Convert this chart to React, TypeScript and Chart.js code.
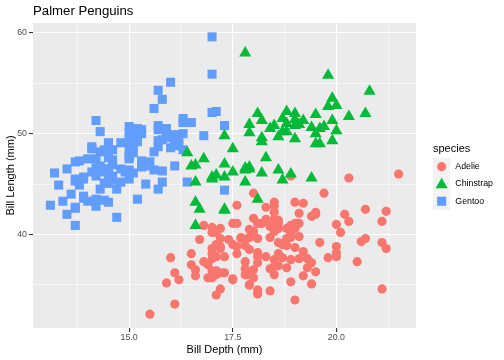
import { useEffect, useRef } from 'react';
import { Chart, registerables } from 'chart.js';

Chart.register(...registerables);

const FONT = "'Liberation Sans', Arial, Helvetica, sans-serif";

const speciesNames = ['Adelie', 'Chinstrap', 'Gentoo'];
const speciesColors = ['#F8766D', '#00BA38', '#619CFF'];
const speciesShapes = ['circle', 'triangle', 'rect'];
const speciesRadius = [4.6, 7, 6.4];
const drawOrder = [3, 1, 2];

const adelieDepth = [18.7, 17.4, 18.0, 19.3, 20.6, 17.8, 19.6, 18.1, 20.2, 17.1, 17.3, 17.6, 21.2, 21.1, 17.8, 19.0, 20.7, 18.4, 21.5, 18.3, 18.7, 19.2, 18.1, 17.2, 18.9, 18.6, 17.9, 18.6, 18.9, 16.7, 18.1, 17.8, 18.9, 17.0, 21.1, 20.0, 18.5, 19.3, 19.1, 18.0, 18.4, 18.5, 19.7, 16.9, 18.8, 19.0, 18.9, 17.9, 21.2, 17.7, 18.9, 17.9, 19.5, 18.1, 18.6, 17.5, 18.8, 16.6, 19.1, 16.9, 21.1, 17.0, 18.2, 17.1, 18.0, 16.2, 19.1, 16.6, 19.4, 19.0, 18.4, 17.2, 18.9, 17.5, 18.5, 16.8, 19.4, 16.1, 19.1, 17.2, 17.6, 18.8, 19.4, 17.8, 20.3, 19.5, 18.6, 19.2, 18.8, 18.0, 18.1, 17.1, 18.1, 17.3, 18.9, 18.6, 18.5, 16.1, 18.5, 17.9, 20.0, 16.0, 20.0, 18.6, 18.9, 17.2, 20.0, 17.0, 19.0, 16.5, 20.3, 17.7, 19.5, 20.7, 18.3, 17.0, 20.5, 17.0, 18.6, 17.2, 19.8, 17.0, 18.5, 15.9, 19.0, 17.6, 18.3, 17.1, 18.0, 17.9, 19.2, 18.5, 18.5, 17.6, 17.5, 17.5, 20.1, 16.5, 17.9, 17.1, 17.2, 15.5, 17.0, 16.8, 18.7, 18.6, 18.4, 17.8, 18.1, 17.1, 18.5];
const adelieLength = [39.1, 39.5, 40.3, 36.7, 39.3, 38.9, 39.2, 34.1, 42.0, 37.8, 37.8, 41.1, 38.6, 34.6, 36.6, 38.7, 42.5, 34.4, 46.0, 37.8, 37.7, 35.9, 38.2, 38.8, 35.3, 40.6, 40.5, 37.9, 40.5, 39.5, 37.2, 39.5, 40.9, 36.4, 39.2, 38.8, 42.2, 37.6, 39.8, 36.5, 40.8, 36.0, 44.1, 37.0, 39.6, 41.1, 37.5, 36.0, 42.3, 39.6, 40.1, 35.0, 42.0, 34.5, 41.4, 39.0, 40.6, 36.5, 37.6, 35.7, 41.3, 37.6, 41.1, 36.4, 41.6, 35.5, 41.1, 35.9, 41.8, 33.5, 39.7, 39.6, 45.8, 35.5, 42.8, 40.9, 37.2, 36.2, 42.1, 34.6, 42.9, 36.7, 35.1, 37.3, 41.3, 36.3, 36.9, 38.3, 38.9, 35.7, 41.1, 34.0, 39.6, 36.2, 40.8, 38.1, 40.3, 33.1, 43.2, 35.0, 41.0, 37.7, 37.8, 37.9, 39.7, 38.6, 38.2, 38.1, 43.2, 38.1, 45.6, 39.7, 42.2, 39.6, 42.7, 38.6, 37.3, 35.7, 41.1, 36.2, 37.7, 40.2, 41.4, 35.2, 40.6, 38.8, 41.5, 39.0, 44.1, 38.5, 43.1, 36.8, 37.5, 38.1, 41.1, 35.6, 40.2, 37.0, 39.7, 40.2, 40.6, 32.1, 40.7, 37.3, 39.0, 39.2, 36.6, 36.0, 37.8, 36.0, 41.5];

const chinstrapDepth = [17.9, 19.5, 19.2, 18.7, 19.8, 17.8, 18.2, 18.2, 18.9, 19.9, 17.8, 20.3, 17.3, 18.1, 17.1, 19.6, 20.0, 17.8, 18.6, 18.2, 17.3, 17.5, 16.6, 19.4, 17.9, 19.0, 18.4, 19.0, 17.8, 20.0, 16.6, 20.8, 16.7, 18.8, 18.6, 16.8, 18.3, 20.7, 16.6, 19.9, 19.5, 17.5, 19.1, 17.0, 17.9, 18.5, 17.9, 19.6, 18.7, 17.3, 16.4, 19.0, 17.3, 19.7, 17.3, 18.8, 16.6, 19.9, 18.8, 19.4, 19.5, 16.5, 17.0, 19.8, 18.1, 18.2, 19.0, 18.7];
const chinstrapLength = [46.5, 50.0, 51.3, 45.4, 52.7, 45.2, 46.1, 51.3, 46.0, 51.3, 46.6, 51.7, 47.0, 52.0, 45.9, 50.5, 50.3, 58.0, 46.4, 49.2, 42.4, 48.5, 43.2, 50.6, 46.7, 52.0, 50.5, 49.5, 46.4, 52.8, 40.9, 54.2, 42.5, 51.0, 49.7, 47.5, 47.6, 52.0, 46.9, 53.5, 49.0, 46.2, 50.9, 45.5, 50.9, 50.8, 50.1, 49.0, 51.5, 49.8, 48.1, 51.4, 45.7, 50.7, 42.5, 52.2, 45.2, 49.3, 50.2, 45.6, 51.9, 46.8, 45.7, 55.8, 43.5, 49.6, 50.8, 50.2];

const gentooDepth = [13.2, 16.3, 14.1, 15.2, 14.5, 13.5, 14.6, 15.3, 13.4, 15.4, 13.7, 16.1, 13.7, 14.6, 14.6, 15.7, 13.5, 15.2, 14.5, 15.1, 14.3, 14.5, 14.5, 15.8, 13.1, 15.1, 14.3, 15.0, 14.3, 15.3, 15.3, 14.2, 14.5, 17.0, 14.8, 16.3, 13.7, 17.3, 13.6, 15.7, 13.7, 16.0, 13.7, 15.0, 15.9, 13.9, 13.9, 15.9, 13.3, 15.8, 14.2, 14.1, 14.4, 15.0, 14.4, 15.4, 13.9, 15.0, 14.5, 15.3, 13.8, 14.9, 13.9, 15.7, 14.2, 16.8, 14.4, 16.2, 14.2, 15.0, 15.0, 15.6, 15.6, 14.8, 15.0, 16.0, 14.2, 16.3, 13.8, 16.4, 14.5, 15.6, 14.6, 15.9, 13.8, 17.3, 14.4, 14.2, 14.0, 17.0, 15.0, 17.1, 14.5, 16.1, 14.7, 15.7, 15.8, 14.6, 14.4, 16.5, 15.0, 17.0, 15.5, 15.0, 13.8, 16.1, 14.7, 15.8, 14.0, 15.1, 15.2, 15.9, 15.2, 16.3, 14.1, 16.0, 15.7, 16.2, 13.7, 14.3, 15.7, 14.8, 16.1];
const gentooLength = [46.1, 50.0, 48.7, 50.0, 47.6, 46.5, 45.4, 46.7, 43.3, 46.8, 40.9, 49.0, 45.5, 48.4, 45.8, 49.3, 42.0, 49.2, 46.2, 48.7, 50.2, 45.1, 46.5, 46.3, 42.9, 46.1, 44.5, 47.8, 48.2, 50.0, 47.3, 42.8, 45.1, 59.6, 49.1, 48.4, 42.6, 44.4, 44.0, 48.7, 42.7, 49.6, 45.3, 49.6, 50.5, 43.6, 45.5, 50.5, 44.9, 45.2, 46.6, 48.5, 45.1, 50.1, 46.5, 45.0, 43.8, 45.5, 43.2, 50.4, 45.3, 46.2, 45.7, 54.3, 45.8, 49.8, 46.2, 49.5, 43.5, 50.7, 47.7, 46.4, 48.2, 46.5, 46.4, 48.6, 47.5, 51.1, 45.2, 45.2, 49.1, 52.5, 47.4, 50.0, 44.9, 50.8, 43.4, 51.3, 47.5, 52.1, 47.5, 52.2, 45.5, 49.5, 44.5, 50.8, 49.4, 46.9, 48.4, 51.1, 48.5, 55.9, 47.2, 49.1, 47.3, 46.8, 41.7, 53.4, 43.3, 48.1, 50.5, 49.8, 43.5, 51.5, 46.2, 55.1, 44.5, 48.8, 47.2, 46.8, 50.4, 45.2, 49.9];

const xMajorTicks = [15, 17.5, 20];
const xTickLabels = ['15.0', '17.5', '20.0'];
const xMinorTicks = [13.75, 16.25, 18.75, 21.25];
const yMajorTicks = [40, 50, 60];
const yTickLabels = ['40', '50', '60'];
const yMinorTicks = [35, 45, 55];

const xLimits = [12.68, 21.92];
const yLimits = [30.725, 60.975];

const depths = [adelieDepth, chinstrapDepth, gentooDepth];
const lengths = [adelieLength, chinstrapLength, gentooLength];

function drawMarker(ctx: CanvasRenderingContext2D, style: string, x: number, y: number, r: number) {
  ctx.beginPath();
  if (style === 'circle') {
    ctx.arc(x, y, r, 0, Math.PI * 2);
  } else if (style === 'triangle') {
    let rad = 0;
    ctx.moveTo(x + Math.sin(rad) * r, y - Math.cos(rad) * r);
    rad += (2 * Math.PI) / 3;
    ctx.lineTo(x + Math.sin(rad) * r, y - Math.cos(rad) * r);
    rad += (2 * Math.PI) / 3;
    ctx.lineTo(x + Math.sin(rad) * r, y - Math.cos(rad) * r);
    ctx.closePath();
  } else {
    const s = Math.SQRT1_2 * r;
    ctx.rect(x - s, y - s, 2 * s, 2 * s);
  }
  ctx.fill();
}

const ggPlugin = {
  id: 'ggPanel',
  beforeDraw(chart: any) {
    const { ctx, chartArea: a } = chart;
    ctx.save();
    ctx.fillStyle = '#EBEBEB';
    ctx.fillRect(a.left, a.top, a.right - a.left, a.bottom - a.top);
    ctx.restore();
  },
  afterDraw(chart: any) {
    const { ctx, chartArea: a } = chart;
    ctx.save();
    // title
    ctx.fillStyle = '#000000';
    ctx.font = `13.2px ${FONT}`;
    ctx.textAlign = 'left';
    ctx.textBaseline = 'alphabetic';
    ctx.fillText('Palmer Penguins', a.left, 15);
    // legend
    const lx = a.right + 17;
    const key = 17.3;
    const ly0 = 158;
    ctx.font = `11px ${FONT}`;
    ctx.fillText('species', lx, 151.5);
    speciesNames.forEach((name, i) => {
      const y = ly0 + i * key;
      ctx.fillStyle = '#F2F2F2';
      ctx.fillRect(lx, y, key, key);
      ctx.fillStyle = speciesColors[i];
      drawMarker(ctx, speciesShapes[i], lx + key / 2, y + key / 2 + (speciesShapes[i] === 'triangle' ? 0.8 : 0), speciesRadius[i]);
      ctx.fillStyle = '#000000';
      ctx.font = `8.8px ${FONT}`;
      ctx.textBaseline = 'middle';
      ctx.fillText(name, lx + key + 5, y + key / 2);
      ctx.textBaseline = 'alphabetic';
    });
    ctx.restore();
  },
};

function gridOpts(major: number[]) {
  return {
    color: '#FFFFFF',
    lineWidth: (c: any) => (major.includes(c.tick?.value) ? 1.1 : 0.55),
    tickColor: (c: any) => (major.includes(c.tick?.value) ? '#333333' : 'rgba(0,0,0,0)'),
    tickWidth: 1.1,
    tickLength: 4,
    drawTicks: true,
  };
}

export default function App() {
  const ref = useRef<HTMLCanvasElement | null>(null);

  useEffect(() => {
    if (!ref.current) return;
    const datasets = speciesNames.map((name, i) => ({
      label: name,
      data: depths[i].map((d, j) => ({ x: d, y: lengths[i][j] })),
      backgroundColor: speciesColors[i],
      borderColor: speciesColors[i],
      pointStyle: speciesShapes[i],
      pointRadius: speciesRadius[i],
      pointBorderWidth: 0,
      order: drawOrder[i],
    }));
    const chart = new Chart(ref.current, {
      type: 'scatter',
      data: { datasets },
      plugins: [ggPlugin],
      options: {
        animation: false,
        responsive: false,
        devicePixelRatio: 1,
        events: [],
        layout: { padding: { top: 23, right: 88, bottom: 0, left: 0 } },
        plugins: { legend: { display: false }, title: { display: false }, tooltip: { enabled: false } },
        scales: {
          x: {
            type: 'linear',
            min: xLimits[0],
            max: xLimits[1],
            afterBuildTicks: (s: any) => {
              s.ticks = [...xMinorTicks, ...xMajorTicks].sort((p, q) => p - q).map((v) => ({ value: v }));
            },
            afterFit: (s: any) => {
              s.height = 32;
            },
            grid: gridOpts(xMajorTicks),
            border: { display: false },
            ticks: {
              autoSkip: false,
              maxRotation: 0,
              padding: 0,
              color: '#4D4D4D',
              font: { family: FONT, size: 8.8 },
              callback: (v: any) => {
                const k = xMajorTicks.indexOf(Number(v));
                return k >= 0 ? xTickLabels[k] : '';
              },
            },
            title: {
              display: true,
              text: 'Bill Depth (mm)',
              color: '#000000',
              font: { family: FONT, size: 11 },
              padding: { top: 0, bottom: 3 },
            },
          },
          y: {
            type: 'linear',
            min: yLimits[0],
            max: yLimits[1],
            afterBuildTicks: (s: any) => {
              s.ticks = [...yMinorTicks, ...yMajorTicks].sort((p, q) => p - q).map((v) => ({ value: v }));
            },
            afterFit: (s: any) => {
              s.width = 33;
            },
            grid: gridOpts(yMajorTicks),
            border: { display: false },
            ticks: {
              autoSkip: false,
              padding: 2,
              color: '#4D4D4D',
              font: { family: FONT, size: 8.8 },
              callback: (v: any) => {
                const k = yMajorTicks.indexOf(Number(v));
                return k >= 0 ? yTickLabels[k] : '';
              },
            },
            title: {
              display: true,
              text: 'Bill Length (mm)',
              color: '#000000',
              font: { family: FONT, size: 11 },
              padding: { top: 4, bottom: 0 },
            },
          },
        },
      } as any,
    });
    return () => chart.destroy();
  }, []);

  return (
    <div style={{ position: 'absolute', left: 0, top: 0, width: 504, height: 360 }}>
      <canvas ref={ref} width={504} height={360} style={{ width: 504, height: 360 }} />
    </div>
  );
}
